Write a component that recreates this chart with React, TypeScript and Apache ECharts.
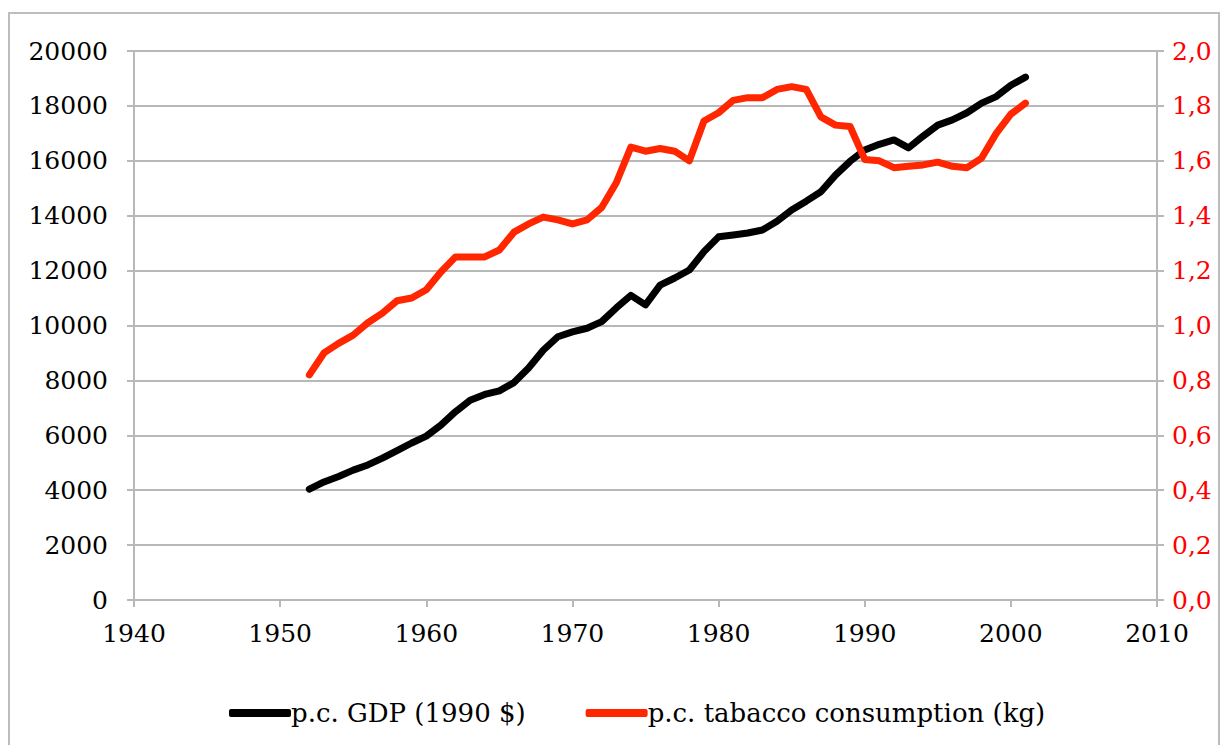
import React, { useEffect, useRef } from "react";
import * as echarts from "echarts";

const years = [
  1952, 1953, 1954, 1955, 1956, 1957, 1958, 1959, 1960, 1961,
  1962, 1963, 1964, 1965, 1966, 1967, 1968, 1969, 1970, 1971,
  1972, 1973, 1974, 1975, 1976, 1977, 1978, 1979, 1980, 1981,
  1982, 1983, 1984, 1985, 1986, 1987, 1988, 1989, 1990, 1991,
  1992, 1993, 1994, 1995, 1996, 1997, 1998, 1999, 2000, 2001,
];

const gdp = [
  4040, 4300, 4500, 4730, 4920, 5170, 5440, 5720, 5970, 6370,
  6860, 7280, 7490, 7620, 7920, 8450, 9100, 9590, 9770, 9900,
  10140, 10640, 11100, 10750, 11470, 11730, 12020, 12690, 13230, 13300,
  13370, 13480, 13800, 14210, 14530, 14870, 15480, 15980, 16390, 16600,
  16760, 16470, 16900, 17300, 17490, 17750, 18100, 18340, 18750, 19050,
];

const tobacco = [
  0.82, 0.9, 0.935, 0.965, 1.01, 1.045, 1.09, 1.1, 1.13, 1.195,
  1.25, 1.25, 1.25, 1.275, 1.34, 1.37, 1.395, 1.385, 1.37, 1.385,
  1.43, 1.52, 1.65, 1.635, 1.645, 1.635, 1.6, 1.745, 1.775, 1.82,
  1.83, 1.83, 1.86, 1.87, 1.86, 1.76, 1.73, 1.725, 1.605, 1.6,
  1.575, 1.58, 1.585, 1.595, 1.58, 1.575, 1.61, 1.7, 1.77, 1.81,
];

const seriesNames = ["p.c. GDP (1990 $)", "p.c. tabacco consumption (kg)"];

const FONT = "DejaVu Serif";
const GRID_GRAY = "#b8b8b8";
const RED = "#ff2600";

export default function App() {
  const ref = useRef<HTMLDivElement>(null);

  useEffect(() => {
    if (!ref.current) return;
    const chart = echarts.init(ref.current, undefined, { renderer: "svg" });
    chart.setOption({
      animation: false,
      backgroundColor: "#ffffff",
      textStyle: { fontFamily: FONT },
      graphic: [
        {
          type: "rect",
          shape: { x: 9, y: 13, width: 1210, height: 760 },
          style: { fill: "none", stroke: "#bdbdbd", lineWidth: 2 },
          silent: true,
        },
      ],
      grid: { left: 134, right: 70, top: 51, bottom: 145, containLabel: false },
      legend: {
        left: 224,
        top: 695,
        itemWidth: 62,
        itemHeight: 8,
        itemGap: 60,
        icon: "roundRect",
        textStyle: { fontFamily: FONT, fontSize: 26, color: "#000", padding: [0, 0, 0, -5] },
        data: seriesNames,
      },
      xAxis: {
        type: "value",
        min: 1940,
        max: 2010,
        interval: 10,
        axisLine: { show: true, lineStyle: { color: GRID_GRAY, width: 2 } },
        axisTick: { show: true, length: 7, lineStyle: { color: GRID_GRAY, width: 2 } },
        axisLabel: {
          fontFamily: FONT,
          fontSize: 25,
          color: "#000",
          margin: 21,
          formatter: (v: number) => String(v),
        },
        splitLine: { show: false },
      },
      yAxis: [
        {
          type: "value",
          min: 0,
          max: 20000,
          interval: 2000,
          position: "left",
          axisLine: { show: true, lineStyle: { color: GRID_GRAY, width: 2 } },
          axisTick: { show: true, length: 7, lineStyle: { color: GRID_GRAY, width: 2 } },
          axisLabel: {
            fontFamily: FONT,
            fontSize: 25,
            color: "#000",
            margin: 26,
            formatter: (v: number) => String(v),
          },
          splitLine: { show: true, lineStyle: { color: GRID_GRAY, width: 2 } },
        },
        {
          type: "value",
          min: 0,
          max: 2,
          interval: 0.2,
          position: "right",
          axisLine: { show: true, lineStyle: { color: GRID_GRAY, width: 2 } },
          axisTick: { show: true, length: 7, lineStyle: { color: GRID_GRAY, width: 2 } },
          axisLabel: {
            fontFamily: FONT,
            fontSize: 25,
            color: "#ff0000",
            margin: 15,
            formatter: (v: number) => v.toFixed(1).replace(".", ","),
          },
          splitLine: { show: false },
        },
      ],
      series: [
        {
          name: seriesNames[0],
          type: "line",
          yAxisIndex: 0,
          data: years.map((y, i) => [y, gdp[i]]),
          showSymbol: false,
          symbol: "none",
          lineStyle: { color: "#000", width: 7, cap: "round", join: "round" },
          itemStyle: { color: "#000" },
        },
        {
          name: seriesNames[1],
          type: "line",
          yAxisIndex: 1,
          data: years.map((y, i) => [y, tobacco[i]]),
          showSymbol: false,
          symbol: "none",
          lineStyle: { color: RED, width: 7, cap: "round", join: "round" },
          itemStyle: { color: RED },
        },
      ],
    });
    return () => chart.dispose();
  }, []);

  return (
    <div
      ref={ref}
      style={{ position: "absolute", left: 0, top: 0, width: 1227, height: 745 }}
    />
  );
}
